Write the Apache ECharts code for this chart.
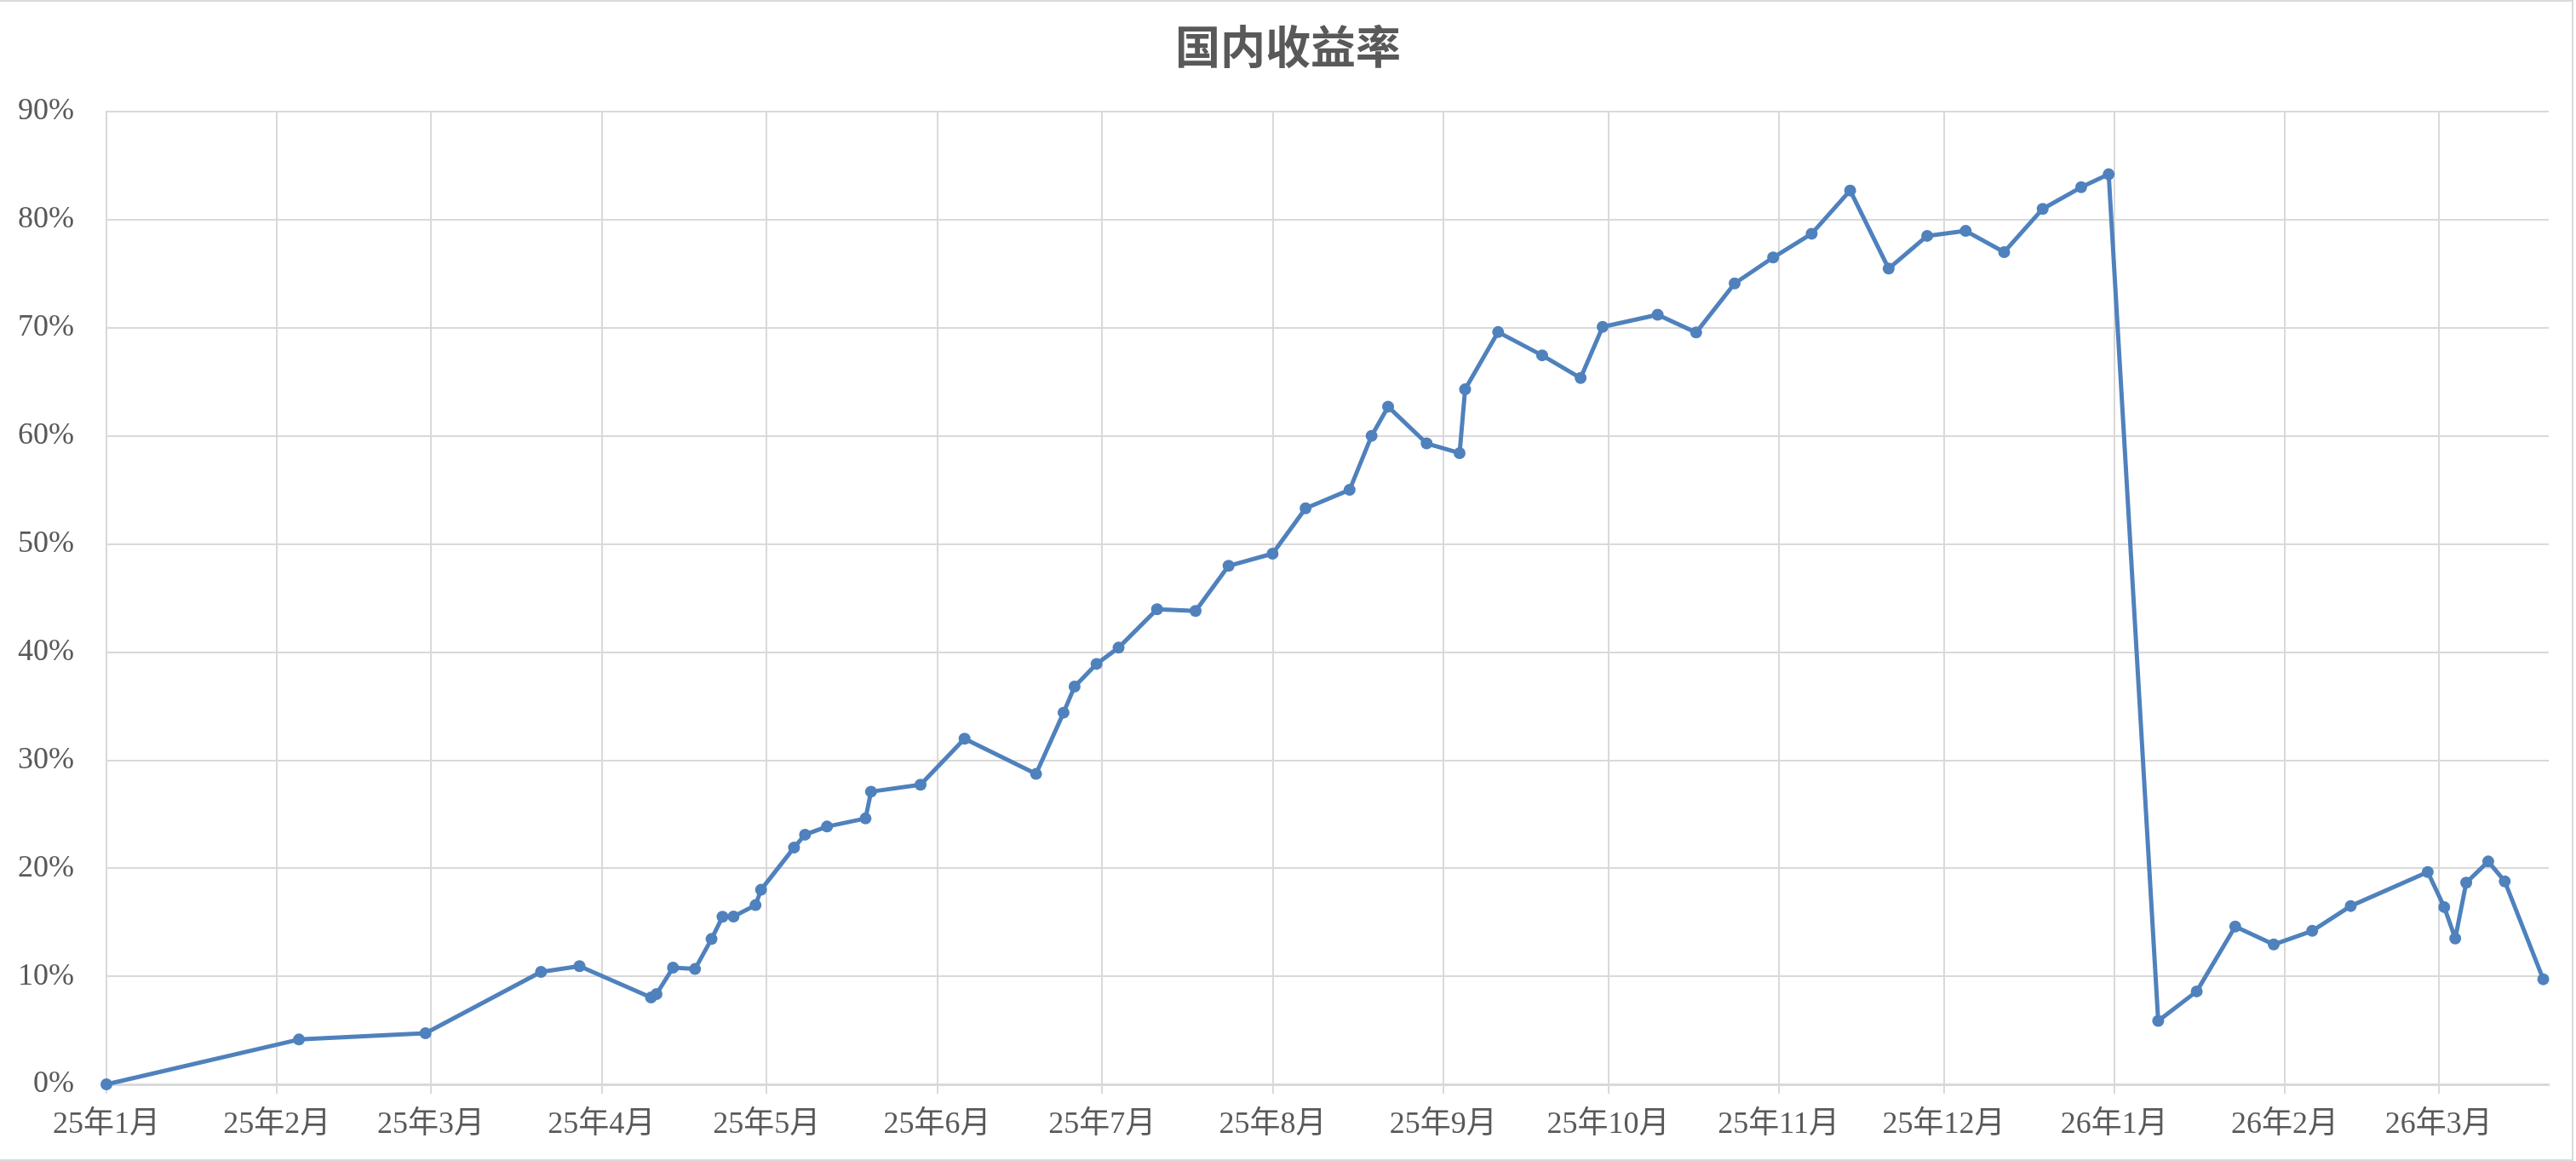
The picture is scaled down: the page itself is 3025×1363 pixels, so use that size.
<!DOCTYPE html>
<html>
<head>
<meta charset="utf-8">
<script src="https://cdn.jsdelivr.net/npm/echarts@6/dist/echarts.min.js"></script>
<style>
  html, body { margin: 0; padding: 0; background: #fff; }
  #chart { position: absolute; left: 0; top: 0; width: 3025px; height: 1363px; }
  #frame { position: absolute; left: -2px; top: 0; width: 3024px; height: 1363px; box-sizing: border-box; border: 2px solid #D9D9D9; pointer-events: none; }
</style>
</head>
<body>
<div id="chart"></div>
<div id="frame"></div>
<script>
// ---- data ----
const titleText = '国内收益率';
const dates = [
  '2025-01-01','2025-02-05','2025-02-28','2025-03-21','2025-03-28',
  '2025-04-10','2025-04-11','2025-04-14','2025-04-18','2025-04-21',
  '2025-04-23','2025-04-25','2025-04-29','2025-04-30','2025-05-06',
  '2025-05-08','2025-05-12','2025-05-19','2025-05-20','2025-05-29',
  '2025-06-06','2025-06-19','2025-06-24','2025-06-26','2025-06-30',
  '2025-07-04','2025-07-11','2025-07-18','2025-07-24','2025-08-01',
  '2025-08-07','2025-08-15','2025-08-19','2025-08-22','2025-08-29',
  '2025-09-04','2025-09-05','2025-09-11','2025-09-19','2025-09-26',
  '2025-09-30','2025-10-10','2025-10-17','2025-10-24','2025-10-31',
  '2025-11-07','2025-11-14','2025-11-21','2025-11-28','2025-12-05',
  '2025-12-12','2025-12-19','2025-12-26','2025-12-31','2026-01-09',
  '2026-01-16','2026-01-23','2026-01-30','2026-02-06','2026-02-13',
  '2026-02-27','2026-03-02','2026-03-04','2026-03-06','2026-03-10',
  '2026-03-13','2026-03-20'
];
const returns = [
  0, 4.15, 4.73, 10.4, 10.93,
  8.04, 8.35, 10.8, 10.67, 13.45,
  15.5, 15.52, 16.58, 18.0, 21.9,
  23.1, 23.85, 24.6, 27.08, 27.72,
  31.98, 28.72, 34.39, 36.8, 38.9,
  40.4, 43.95, 43.8, 47.97, 49.1,
  53.3, 55.0, 60.0, 62.7, 59.3,
  58.4, 64.3, 69.6, 67.45, 65.35,
  70.08, 71.2, 69.56, 74.1, 76.5,
  78.7, 82.7, 75.47, 78.5, 78.96,
  77.0, 81.0, 83.0, 84.2, 5.87,
  8.6, 14.6, 12.94, 14.2, 16.5,
  19.64, 16.4, 13.5, 18.66, 20.62,
  18.78, 9.72
];
// month ticks: [year, month(1-12)]
const monthTicks = [
  [2025,1],[2025,2],[2025,3],[2025,4],[2025,5],[2025,6],[2025,7],[2025,8],
  [2025,9],[2025,10],[2025,11],[2025,12],[2026,1],[2026,2],[2026,3]
];
const xMinDate = [2025, 1, 1];
const xMaxDate = [2026, 3, 21];
const yTicks = [0, 10, 20, 30, 40, 50, 60, 70, 80, 90];

// ---- build ----
function ts(y, m, d) { return new Date(y, m - 1, d).getTime(); }
function parseDay(s) { const p = s.split('-').map(Number); return ts(p[0], p[1], p[2]); }
const seriesData = dates.map((d, i) => [parseDay(d), returns[i]]);
const tickValues = monthTicks.map(t => ts(t[0], t[1], 1));

const labelFont = "'Liberation Serif', 'Noto Sans CJK SC', serif";
const gridColor = '#D9D9D9';
const textColor = '#595959';

const chart = echarts.init(document.getElementById('chart'), null, { renderer: 'canvas' });
chart.setOption({
  animation: false,
  backgroundColor: '#ffffff',
  title: {
    text: titleText,
    left: 'center',
    top: 23,
    textStyle: { fontFamily: "'Noto Sans CJK SC', sans-serif", fontSize: 53, fontWeight: 'bold', color: textColor }
  },
  grid: { left: 125, right: 32, top: 131, bottom: 90, containLabel: false },
  xAxis: {
    type: 'value',
    scale: true,
    min: ts(xMinDate[0], xMinDate[1], xMinDate[2]),
    max: ts(xMaxDate[0], xMaxDate[1], xMaxDate[2]),
    axisLine: { show: true, onZero: false, lineStyle: { color: gridColor, width: 3 } },
    axisTick: { show: true, length: 11, customValues: tickValues, lineStyle: { color: gridColor, width: 2 } },
    splitLine: { show: true, lineStyle: { color: gridColor, width: 2 } },
    axisLabel: {
      customValues: tickValues,
      margin: 30,
      fontSize: 36,
      fontFamily: labelFont,
      color: textColor,
      formatter: function (v) {
        const d = new Date(v);
        return (d.getFullYear() % 100) + '年' + (d.getMonth() + 1) + '月';
      }
    }
  },
  yAxis: {
    type: 'value',
    min: yTicks[0],
    max: yTicks[yTicks.length - 1],
    interval: yTicks[1] - yTicks[0],
    axisLine: { show: true, lineStyle: { color: gridColor, width: 2 } },
    axisTick: { show: false },
    splitLine: { show: true, lineStyle: { color: gridColor, width: 2 } },
    axisLabel: {
      margin: 38,
      fontSize: 36,
      fontFamily: labelFont,
      color: textColor,
      formatter: function (v) { return v + '%'; }
    }
  },
  series: [{
    type: 'line',
    data: seriesData,
    symbol: 'circle',
    symbolSize: 14,
    showAllSymbol: true,
    lineStyle: { color: '#4F81BD', width: 5 },
    itemStyle: { color: '#4F81BD' },
    z: 3
  }]
});
</script>
</body>
</html>
